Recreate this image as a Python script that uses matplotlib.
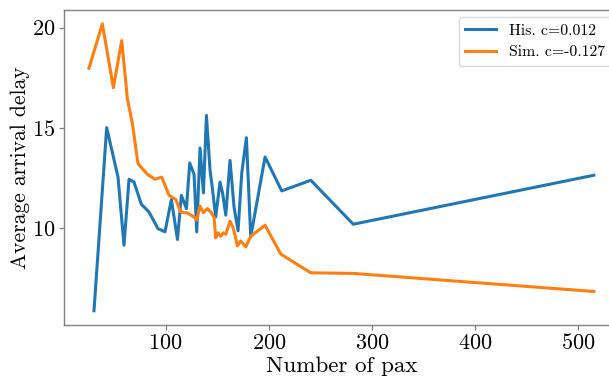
import matplotlib
matplotlib.use("Agg")
import matplotlib.pyplot as plt

# ── data ──────────────────────────────────────────────────────────────────────
his_x = [30.4, 42.7, 53.7, 59.5, 64.4, 69.2, 76.4, 83.8, 92.5, 99.3, 105.5,
         111.4, 115.2, 120.1, 123.3, 127.5, 130.1, 133.3, 136.6, 139.5, 143.0,
         145.3, 148.5, 152.7, 155.3, 158.3, 162.4, 166.3, 170.2, 173.8, 178.3,
         182.5, 196.4, 212.6, 240.8, 282.0, 515.5]
his_y = [5.89, 15.01, 12.55, 9.15, 12.44, 12.3, 11.19, 10.81, 9.98, 9.82, 11.43,
         9.44, 11.64, 10.98, 13.25, 12.69, 9.82, 14.0, 11.76, 15.62, 12.89,
         11.98, 10.56, 12.3, 11.72, 10.65, 13.38, 11.06, 9.87, 12.75, 14.51,
         9.57, 13.55, 11.86, 12.39, 10.2, 12.64]

sim_x = [25.5, 38.5, 49.2, 57.3, 62.8, 67.7, 73.1, 82.2, 89.6, 96.1, 103.2,
         109.7, 114.6, 121.0, 127.5, 130.1, 133.3, 136.6, 140.5, 143.7, 146.9,
         148.5, 150.8, 153.4, 156.0, 158.3, 162.4, 165.7, 169.6, 172.8, 177.7,
         182.5, 196.4, 211.7, 240.8, 282.0, 515.5]
sim_y = [17.97, 20.18, 17.0, 19.35, 16.45, 15.2, 13.22, 12.69, 12.44, 12.55,
         11.64, 11.44, 10.8, 10.76, 10.56, 10.4, 11.1, 10.78, 10.98, 10.81,
         10.56, 9.52, 9.77, 9.6, 9.77, 9.7, 10.35, 9.98, 9.12, 9.37, 9.07,
         9.6, 10.15, 8.71, 7.78, 7.75, 6.85]

labels = ["His. c=0.012", "Sim. c=-0.127"]

plt.rcParams["font.family"] = ["cmr10", "DejaVu Serif"]
plt.rcParams["mathtext.fontset"] = "cm"
plt.rcParams["axes.unicode_minus"] = False
plt.rcParams["axes.formatter.use_mathtext"] = True

fig = plt.figure(figsize=(6.09, 3.82), dpi=100)
# right spine sits just past the image edge, as in the reference crop
ax = fig.add_axes([0.1046, 0.149, 0.912, 0.826])

ax.plot(his_x, his_y, color="#1f77b4", linewidth=2.2, label=labels[0])
ax.plot(sim_x, sim_y, color="#ff7f0e", linewidth=2.2, label=labels[1])

ax.set_xticks([100, 200, 300, 400, 500])
ax.set_yticks([10, 15, 20])
ax.set_xlabel("Number of pax", fontsize=16.6, labelpad=2)
ax.set_ylabel("Average arrival delay", fontsize=15.5, labelpad=1.5)
ax.tick_params(labelsize=16, color="#808080", length=3.5, width=0.9, pad=2.5)
for s in ax.spines.values():
    s.set_color("#808080")
    s.set_linewidth(1.0)

leg = ax.legend(loc="upper right", fontsize=11.3, fancybox=True,
                framealpha=1.0, edgecolor="#d9d9d9")

plt.savefig("out.png", dpi=100)
